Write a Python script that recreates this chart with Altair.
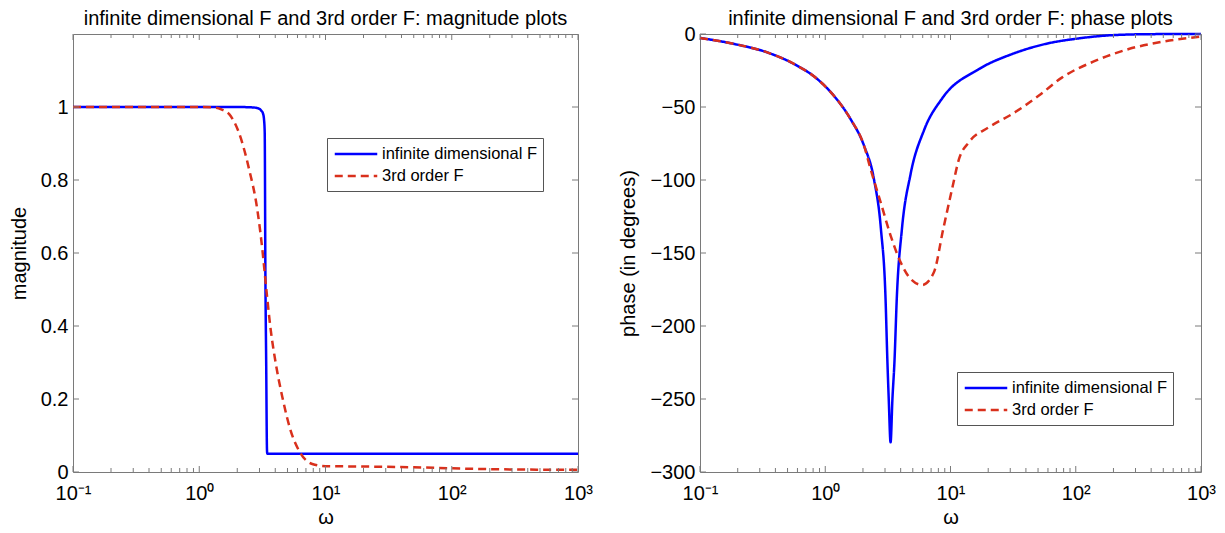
import altair as alt
import pandas as pd

SERIES = ["infinite dimensional F", "3rd order F"]
COLORS = ["#0000ff", "#d9301c"]
DASHES = [[1, 0], [8, 5]]
FRAME = "#7a7a7a"
FONT = "Liberation Sans"

# ---------- magnitude plot data ----------
mag_inf_w = [0.1, 1.0, 2.0, 2.6, 2.9, 3.1, 3.2, 3.26, 3.30, 3.34, 3.39, 3.44, 3.46, 10, 100, 1000]
mag_inf_v = [1.0, 1.0, 1.0, 0.999, 0.997, 0.99, 0.982, 0.965, 0.93, 0.55, 0.30, 0.06, 0.05, 0.05, 0.05, 0.05]

mag_3rd_w = [0.1, 0.5, 1.0, 1.36, 1.51, 1.72, 2.06, 2.48, 2.88, 3.16, 3.40, 3.68, 4.03, 4.54,
             5.28, 6.35, 7.86, 10, 20, 50, 100, 300, 1000]
mag_3rd_v = [1.0, 1.0, 1.0, 0.998, 0.993, 0.981, 0.930, 0.830, 0.720, 0.610, 0.500, 0.390, 0.299,
             0.207, 0.115, 0.051, 0.022, 0.016, 0.015, 0.013, 0.010, 0.007, 0.006]

# ---------- phase plot data ----------
ph_inf_w = [0.1, 0.187, 0.344, 0.562, 0.863, 1.17, 1.59, 2.04, 2.447, 2.783, 3.023, 3.137, 3.213,
            3.323, 3.438, 3.567, 3.734, 4.094, 4.8, 6.14, 8.6, 16.9, 31.1, 57.4, 106, 196, 400, 1000]
ph_inf_v = [-2.7, -6.8, -12.6, -20.5, -30.8, -42.2, -58.2, -76.5, -99.3, -133.6, -179, -225, -250,
            -279.7, -250, -225, -179, -133.6, -96, -66, -44, -24, -13.7, -6.8, -3, -0.8, -0.1, 0]

ph_3rd_w = [0.1, 0.187, 0.344, 0.562, 0.863, 1.17, 1.59, 2.04, 2.30, 2.77, 3.33, 4.00, 4.81, 5.95,
            7.37, 8.75, 10.3, 11.7, 14.0, 20.2, 31.1, 50.8, 78, 144, 265, 490, 1000]
ph_3rd_v = [-2.7, -6.8, -12.6, -20.5, -30.8, -42.2, -58.2, -76.5, -92.5, -115.3, -138.2, -156.4,
            -167.8, -171.9, -163.2, -133.6, -106, -85.6, -74.2, -63.9, -54.8, -42.2, -29.7, -18.3,
            -10.3, -5.3, -1.8]

# ---------- axes ----------
x_major = [0.1, 1, 10, 100, 1000]
x_major_labels = ["10⁻¹", "10⁰", "10¹", "10²", "10³"]
x_minor = [0.2, 0.3, 0.4, 0.5, 0.6, 0.7, 0.8, 0.9,
           2, 3, 4, 5, 6, 7, 8, 9,
           20, 30, 40, 50, 60, 70, 80, 90,
           200, 300, 400, 500, 600, 700, 800, 900]
mag_ticks = [0, 0.2, 0.4, 0.6, 0.8, 1.0]
ph_ticks = [-300, -250, -200, -150, -100, -50, 0]

label_expr = ""
for v, s in zip(x_major, x_major_labels):
    label_expr += f"datum.value == {v} ? '{s}' : "
label_expr += "''"


def make_df(w1, v1, w2, v2):
    return pd.DataFrame({
        "w": list(w1) + list(w2),
        "v": list(v1) + list(v2),
        "series": [SERIES[0]] * len(w1) + [SERIES[1]] * len(w2),
    })


def panel(df, ydomain, yticks, yformat, ytitle, title, lx, ly, W, H, title_offset):
    xscale = alt.Scale(type="log", domain=[0.1, 1000], nice=False)
    yscale = alt.Scale(domain=ydomain, nice=False, zero=False)
    xaxis = alt.Axis(values=x_major, labelExpr=label_expr, ticks=False, domain=False,
                     grid=False, labelFontSize=20, titleFontSize=20, labelPadding=11,
                     titlePadding=4, titleFontWeight="normal", labelFlush=False)
    yaxis = alt.Axis(values=yticks, format=yformat, ticks=False, domain=False, grid=False,
                     labelFontSize=20, titleFontSize=20, labelPadding=5,
                     titlePadding=11, titleFontWeight="normal", labelFlush=False)
    legend = alt.Legend(
        title=None, orient="none", legendX=lx, legendY=ly,
        fillColor="white", strokeColor="#555555", padding=6, rowPadding=3,
        labelFontSize=16.5, labelFont=FONT, labelColor="black", labelOffset=16,
        symbolType="M-2.5,0H2.5", symbolSize=289, symbolStrokeWidth=2.5, symbolOffset=13,
        labelLimit=400,
    )
    lines = alt.Chart(df).mark_line(strokeWidth=2.5, interpolate="monotone").encode(
        x=alt.X("w:Q", scale=xscale, title="ω", axis=xaxis),
        y=alt.Y("v:Q", scale=yscale, title=ytitle, axis=yaxis),
        color=alt.Color("series:N", scale=alt.Scale(domain=SERIES, range=COLORS), legend=legend),
        strokeDash=alt.StrokeDash("series:N", scale=alt.Scale(domain=SERIES, range=DASHES),
                                  legend=legend),
    )

    def xt(vals, ln, bottom):
        d = pd.DataFrame({"w": vals})
        if bottom:
            ys = dict(y=alt.value(H), y2=alt.value(H - ln))
        else:
            ys = dict(y=alt.value(0), y2=alt.value(ln))
        return alt.Chart(d).mark_rule(color=FRAME, strokeWidth=1).encode(
            x=alt.X("w:Q", scale=xscale, title="ω", axis=xaxis), **ys)

    def yt(vals, ln, left):
        d = pd.DataFrame({"v": vals})
        if left:
            xs = dict(x=alt.value(0), x2=alt.value(ln))
        else:
            xs = dict(x=alt.value(W), x2=alt.value(W - ln))
        return alt.Chart(d).mark_rule(color=FRAME, strokeWidth=1).encode(
            y=alt.Y("v:Q", scale=yscale, title=ytitle, axis=yaxis), **xs)

    layers = [
        lines,
        xt(x_major, 6, True), xt(x_minor, 4, True),
        xt(x_major, 6, False), xt(x_minor, 4, False),
        yt(yticks, 6, True), yt(yticks, 6, False),
    ]
    return alt.layer(*layers).properties(
        width=W, height=H,
        title=alt.TitleParams(title, fontSize=20, fontWeight="normal", font=FONT,
                              anchor="middle", offset=title_offset, frame="group",
                              color="black"),
    )


mag_df = make_df(mag_inf_w, mag_inf_v, mag_3rd_w, mag_3rd_v)
ph_df = make_df(ph_inf_w, ph_inf_v, ph_3rd_w, ph_3rd_v)

left = panel(mag_df, [0, 1.2], mag_ticks, "~g", "magnitude",
             "infinite dimensional F and 3rd order F: magnitude plots", 254, 104, 505, 438, 5)
right = panel(ph_df, [-300, 0], ph_ticks, "d", "phase (in degrees)",
              "infinite dimensional F and 3rd order F: phase plots", 257, 338, 501, 438, -5)

chart = alt.hconcat(left, right, spacing=122, bounds="flush").resolve_scale(
    x="independent", y="independent", color="independent", strokeDash="independent"
).resolve_legend(
    color="independent", strokeDash="independent"
).configure(
    font=FONT, padding={"left": 0, "top": 0, "right": 0, "bottom": 0}
).configure_view(
    stroke=FRAME, strokeWidth=1
).configure_axis(
    labelColor="black", titleColor="black", labelFont=FONT, titleFont=FONT
)

chart.save("out.html", embed_options={"renderer": "svg", "actions": False})
